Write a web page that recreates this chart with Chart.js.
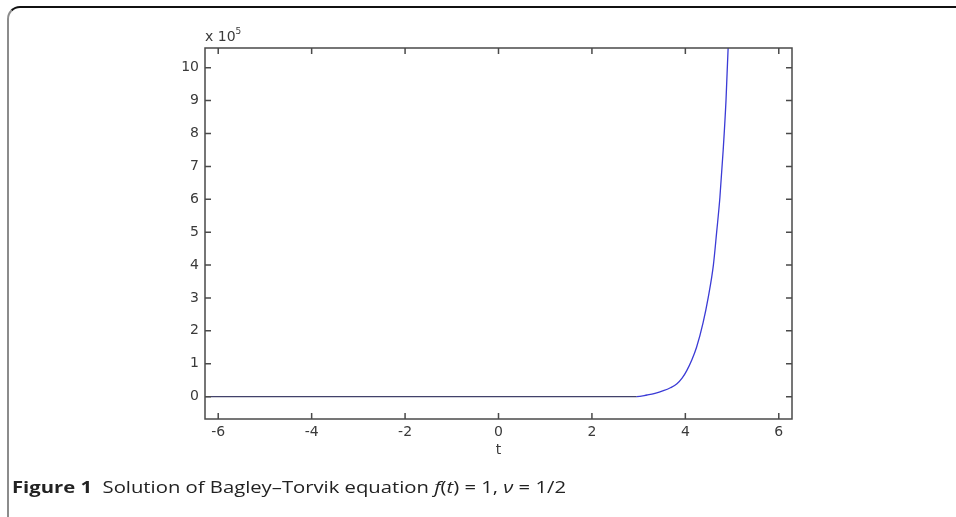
<!DOCTYPE html>
<html>
<head>
<meta charset="utf-8">
<script src="https://cdn.jsdelivr.net/npm/chart.js@4/dist/chart.umd.min.js"></script>
<style>
  html, body { margin: 0; padding: 0; background: #fff; }
  #wrap { position: relative; width: 956px; height: 517px; overflow: hidden; }
  #frame {
    position: absolute; left: 7px; top: 6px; width: 1000px; height: 540px;
    border-left: 2px solid #8c8c8c; border-top: 2px solid #111;
    border-top-left-radius: 13px;
  }
  #box { position: absolute; left: 0; top: 0; width: 956px; height: 517px; }
  #mult {
    position: absolute; left: 205px; top: 27px; color: #3a3a3a;
    font: 14px "DejaVu Sans", sans-serif;
  }
  #mult sup { font-size: 9px; position: relative; top: -1px; }
  #caption {
    position: absolute; left: 12px; top: 476px; color: #222;
    font: 15.5px "Open Sans", sans-serif; white-space: nowrap;
    transform-origin: 0 0;
  }
  #caption b { font-weight: 700; }
</style>
</head>
<body>
<div id="wrap">
  <div id="frame"></div>
  <div id="box"><canvas id="chart"></canvas></div>
  <div id="mult">x 10<sup>5</sup></div>
  <div id="caption"><b>Figure 1</b>&nbsp; Solution of Bagley–Torvik equation <i>f</i>(<i>t</i>) = 1, <i>ν</i> = 1/2</div>
</div>
<script>
  // values, f in units of 10^5
  const tVals = [-6.28, -4, -2, 0, 2, 2.96, 3.18, 3.35, 3.53, 3.68, 3.82, 3.93, 4.03, 4.14, 4.24, 4.38, 4.49, 4.60, 4.67, 4.74, 4.81, 4.87, 4.92, 4.96];
  const fVals = [0, 0, 0, 0, 0, 0, 0.05, 0.10, 0.18, 0.27, 0.39, 0.56, 0.79, 1.12, 1.50, 2.25, 3.02, 4.00, 5.00, 6.06, 7.50, 9.00, 10.75, 11.6];
  const xTicks = [-6, -4, -2, 0, 2, 4, 6];
  const yTicks = [0, 1, 2, 3, 4, 5, 6, 7, 8, 9, 10];
  const scaleExp = 5;

  const points = tVals.map((t, i) => ({ x: t, y: fVals[i] * Math.pow(10, scaleExp) }));

  const axisFont = { family: '"DejaVu Sans", sans-serif', size: 14 };

  // matlab style box with inward ticks on all four sides
  const boxTicks = {
    id: 'boxTicks',
    afterDraw(chart) {
      const c = chart.ctx, a = chart.chartArea;
      const sx = chart.scales.x, sy = chart.scales.y;
      const len = 6;
      c.save();
      c.strokeStyle = '#4a4a4a';
      c.lineWidth = 1.5;
      c.strokeRect(a.left, a.top, a.right - a.left, a.bottom - a.top);
      c.beginPath();
      for (const v of xTicks) {
        let px = sx.getPixelForValue(v);
        c.moveTo(px, a.bottom); c.lineTo(px, a.bottom - len);
        c.moveTo(px, a.top); c.lineTo(px, a.top + len);
      }
      for (const v of yTicks) {
        let py = sy.getPixelForValue(v * Math.pow(10, scaleExp));
        c.moveTo(a.left, py); c.lineTo(a.left + len, py);
        c.moveTo(a.right, py); c.lineTo(a.right - len, py);
      }
      c.stroke();
      c.fillStyle = '#3a3a3a';
      c.font = '14px "DejaVu Sans", sans-serif';
      c.textAlign = 'center';
      c.textBaseline = 'middle';
      c.fillText('t', (a.left + a.right) / 2, 450);
      c.restore();
    }
  };

  new Chart(document.getElementById('chart'), {
    type: 'line',
    data: {
      datasets: [{
        data: points,
        borderColor: '#3b3bd6',
        borderWidth: 1.3,
        pointRadius: 0,
        fill: false,
        cubicInterpolationMode: 'monotone',
        segment: {
          borderColor: ctx => ctx.p1.parsed.x <= 2.96 ? '#42426a' : '#3b3bd6'
        }
      }]
    },
    options: {
      responsive: true,
      maintainAspectRatio: false,
      animation: false,
      events: [],
      layout: { padding: { top: 48, right: 164, left: 0, bottom: 0 } },
      plugins: { legend: { display: false }, tooltip: { enabled: false } },
      scales: {
        x: {
          type: 'linear',
          min: -6.283,
          max: 6.283,
          afterFit: s => { s.height = 98; },
          afterBuildTicks: s => { s.ticks = xTicks.map(v => ({ value: v })); },
          grid: { display: false, drawTicks: false },
          border: { display: false },
          ticks: { color: '#3a3a3a', font: axisFont, padding: 5, maxRotation: 0, autoSkip: false }
        },
        y: {
          type: 'linear',
          min: -0.68e5,
          max: 10.6e5,
          afterFit: s => { s.width = 205; },
          afterBuildTicks: s => { s.ticks = yTicks.map(v => ({ value: v * Math.pow(10, scaleExp) })); },
          grid: { display: false, drawTicks: false },
          border: { display: false },
          ticks: {
            color: '#3a3a3a', font: axisFont, padding: 6, autoSkip: false,
            callback: v => String(Math.round(v / Math.pow(10, scaleExp)))
          }
        }
      }
    },
    plugins: [boxTicks]
  });

  // squeeze the caption to the width it has in the figure
  const cap = document.getElementById('caption');
  const w = cap.getBoundingClientRect().width;
  if (w > 0) cap.style.transform = 'scaleX(' + (554 / w) + ')';
</script>
</body>
</html>
